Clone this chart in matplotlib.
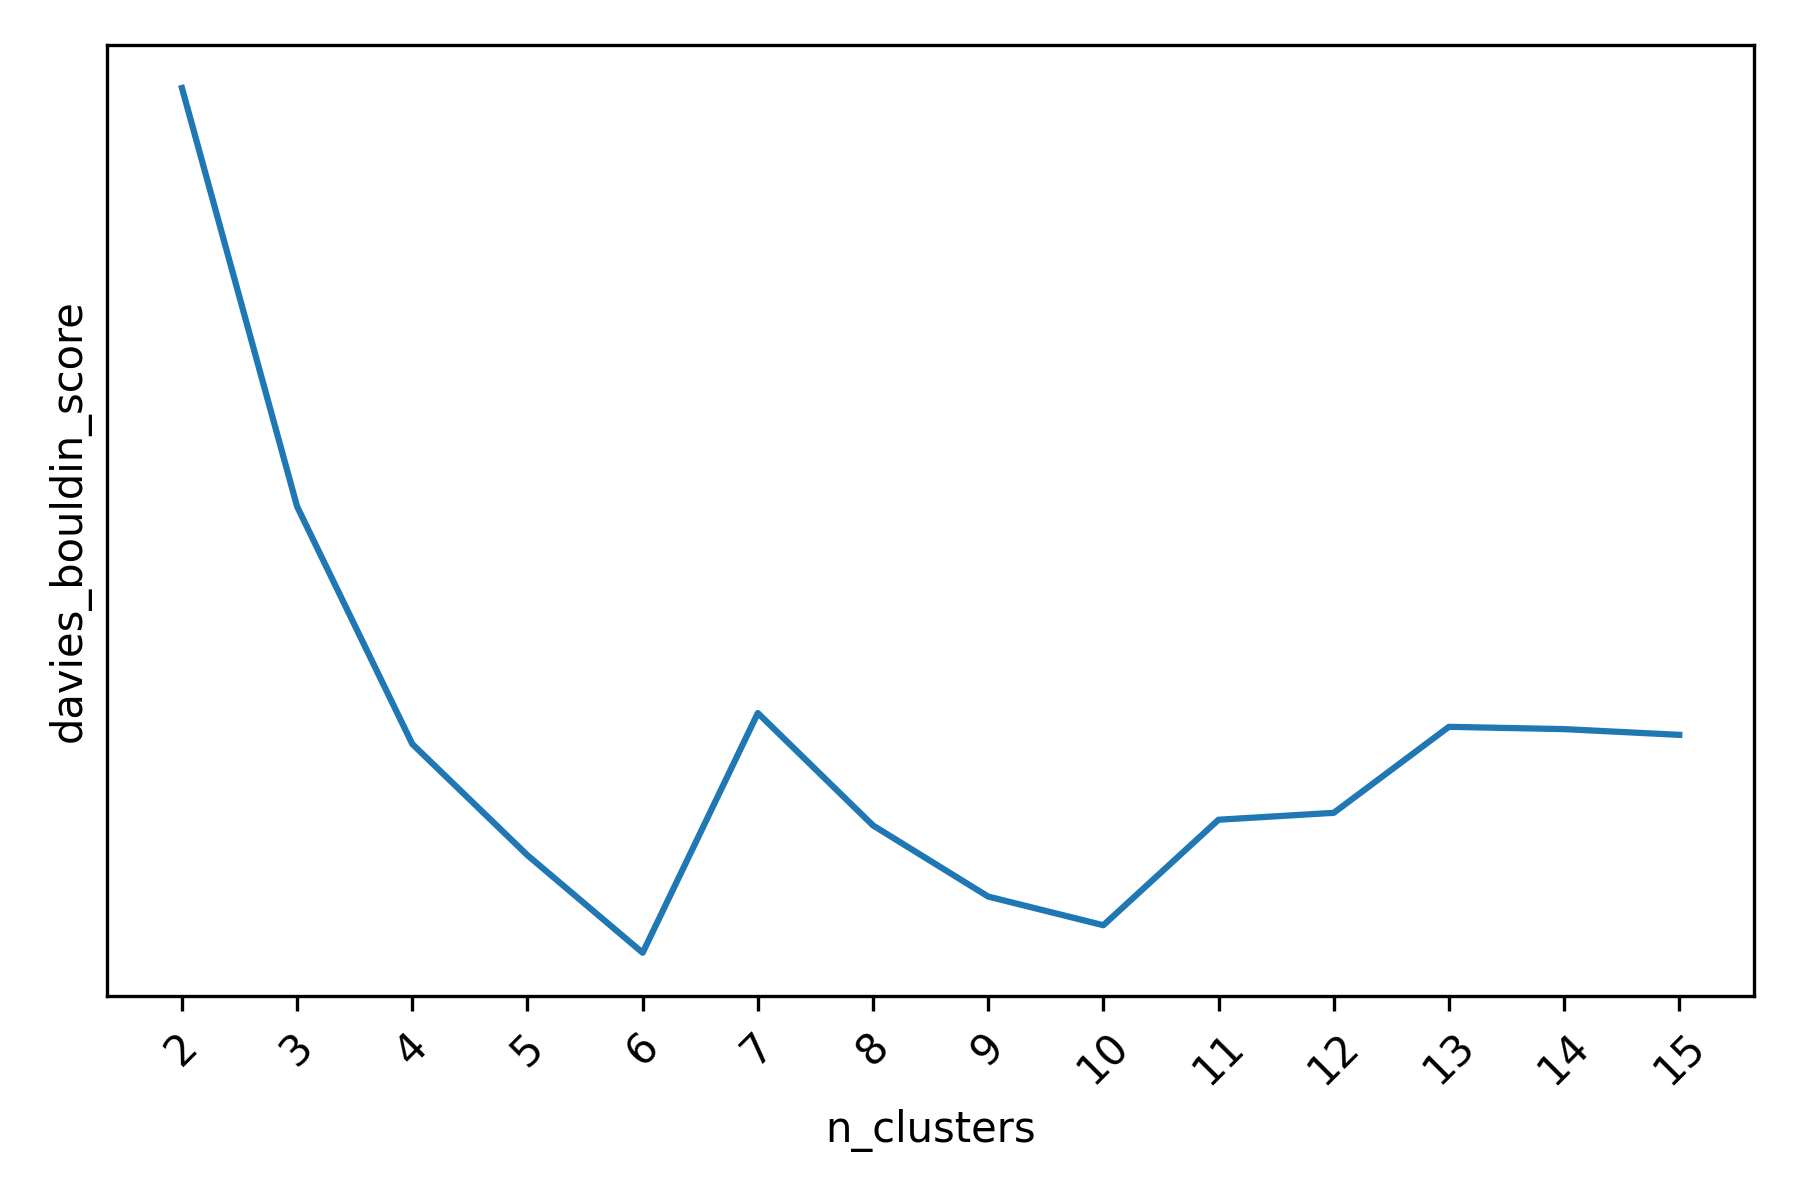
"""Davies-Bouldin score por numero de clusters."""
import matplotlib
matplotlib.use("Agg")
import matplotlib.pyplot as plt

n_clusters = [2, 3, 4, 5, 6, 7, 8, 9, 10, 11, 12, 13, 14, 15]
db_score = [1.325, 0.960, 0.753, 0.656, 0.571, 0.780, 0.682,
            0.620, 0.595, 0.687, 0.693, 0.768, 0.766, 0.761]

fig, ax = plt.subplots(figsize=(6, 4))
fig.subplots_adjust(left=0.0595, right=0.9745, top=0.9627, bottom=0.170)
ax.plot(n_clusters, db_score)
ax.set_xticks(n_clusters)
ax.tick_params(axis="x", rotation=45)
ax.set_yticks([])
ax.set_xlabel("n_clusters")
ax.set_ylabel("davies_bouldin_score")

fig.savefig("out.png", dpi=300)
